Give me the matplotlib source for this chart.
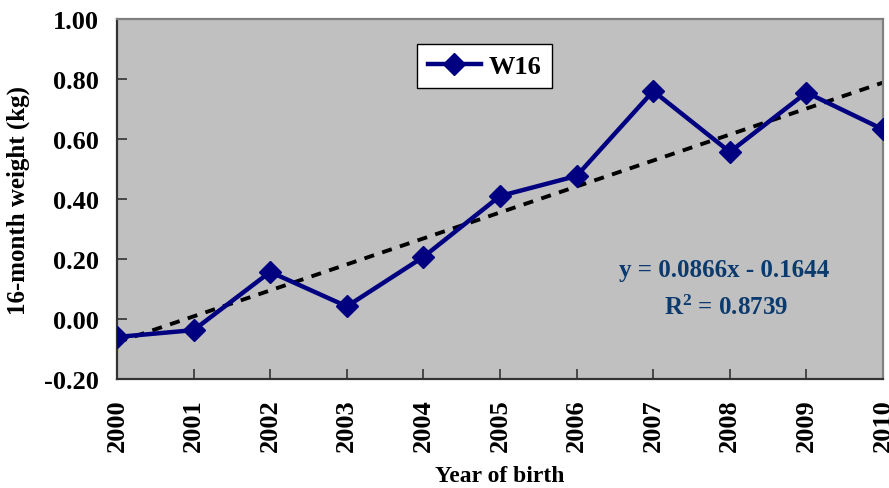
import matplotlib

matplotlib.use("Agg")
import matplotlib.pyplot as plt
import numpy as np

years = [2000, 2001, 2002, 2003, 2004, 2005, 2006, 2007, 2008, 2009, 2010]
w16 = [-0.06, -0.037, 0.157, 0.042, 0.207, 0.41, 0.477, 0.76, 0.557, 0.755, 0.632]
slope = 0.0866
intercept = -0.1644
r_squared = 0.8739
y_ticks = [-0.20, 0.00, 0.20, 0.40, 0.60, 0.80, 1.00]

plt.rcParams.update({
    "font.family": "Liberation Serif",
    "font.weight": "bold",
    "mathtext.default": "regular",
})

fig = plt.figure(figsize=(8.89, 4.89), dpi=100)
ax = fig.add_axes([0.1316, 0.2229, 0.8617, 0.7361])
ax.set_facecolor("#C0C0C0")

ax.plot(years, w16, color="#000080", lw=3.2, marker="D", markersize=11, label="W16", zorder=3)

idx = np.arange(1, len(years) + 1)
trend = slope * idx + intercept
ax.plot(years, trend, color="black", lw=2.8, ls=(0, (2.6, 2.2)), zorder=2)

ax.set_xlim(2000, 2010)
ax.set_ylim(-0.20, 1.00)
ax.set_xticks(years)
ax.set_xticklabels([str(y) for y in years], rotation=90, fontsize=19, fontweight="bold")
ax.set_yticks(y_ticks)
ax.set_yticklabels([f"{v:.2f}" for v in y_ticks], fontsize=19, fontweight="bold")
ax.tick_params(direction="in", length=7, width=1.2, color="#333333")
ax.tick_params(axis="x", pad=14)
ax.tick_params(axis="y", pad=13)

for side in ("left", "bottom"):
    ax.spines[side].set_color("#333333")
    ax.spines[side].set_linewidth(1.6)
for side in ("top", "right"):
    ax.spines[side].set_color("#808080")
    ax.spines[side].set_linewidth(1.6)

ax.set_xlabel("Year of birth", fontsize=17, fontweight="bold", labelpad=10)
ax.set_ylabel("16-month weight (kg)", fontsize=18, fontweight="bold", labelpad=10)

leg = ax.legend(loc="upper left", bbox_to_anchor=(0.392, 0.931), fontsize=19, frameon=True,
                fancybox=False, edgecolor="black", handlelength=2.0, borderpad=0.4,
                handletextpad=0.3, borderaxespad=0)
leg.get_frame().set_linewidth(1.0)
leg.get_frame().set_facecolor("white")
leg.get_frame().set_alpha(1.0)

eq_color = "#0B3A6E"
ax.text(0.793, 0.304, f"y = {slope:.4f}x - {abs(intercept):.4f}", transform=ax.transAxes,
        ha="center", va="center", fontsize=18, fontweight="bold", color=eq_color)
ax.text(0.795, 0.2, f"R$^{{2}}$ = {r_squared:.4f}", transform=ax.transAxes,
        ha="center", va="center", fontsize=18, fontweight="bold", color=eq_color)

fig.savefig("out.png", dpi=100)
